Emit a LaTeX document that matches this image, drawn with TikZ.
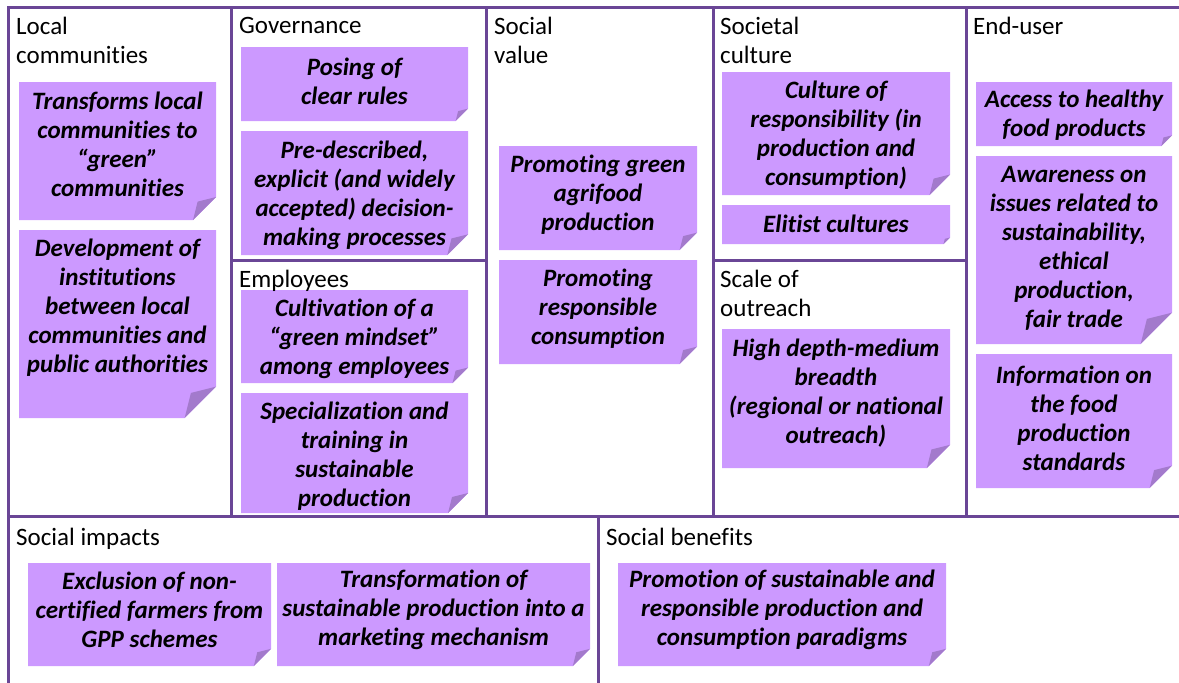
\documentclass[tikz,border=0pt]{standalone}
\usepackage{fontspec}
\setmainfont{Carlito}[Ligatures=NoCommon]
\definecolor{gridline}{RGB}{106,70,150}
\definecolor{notefill}{HTML}{CC99FF}
\definecolor{notefold}{HTML}{A37ACC}

\begin{document}
\begin{tikzpicture}[x=1pt,y=-1pt,
  every node/.style={font=\fontsize{25}{29}\selectfont},
  heading/.style={anchor=north west,inner sep=0pt,align=left},
  notetext/.style={align=center,inner sep=0pt,font=\fontsize{25}{29}\selectfont\bfseries\itshape},
  frame/.style={gridline,line width=3pt}]
  \useasboundingbox (0,0) rectangle (1179,683);
  % sticky notes: x1/y1/x2/y2/text centre/text
  \foreach \xa/\ya/\xb/\yb/\ty/\txt [count=\i] in {
    19/82/216/220/144.5/{Transforms local\\communities to\\“green”\\communities},
    19/230/216/418/308/{Development of\\institutions\\between local\\communities and\\public authorities},
    241/47/468/121/81.5/{Posing of\\clear rules},
    241/131/468/255/195.5/{Pre-described,\\explicit (and widely\\accepted) decision-\\making processes},
    241/290/468/383/339/{Cultivation of a\\“green mindset”\\among employees},
    241/393/468/513/456.5/{Specialization and\\training in\\sustainable\\production},
    499/146/697/250/194.5/{Promoting green\\agrifood\\production},
    499/260/697/364/308.5/{Promoting\\responsible\\consumption},
    722/72/950/195/135/{Culture of\\responsibility (in\\production and\\consumption)},
    722/205/950/244/224/{Elitist cultures},
    722/329/950/468/393/{High depth-medium\\breadth\\(regional or national\\outreach)},
    976/82/1172/146/115.5/{Access to healthy\\food products},
    976/156/1172/344/248.5/{Awareness on\\issues related to\\sustainability,\\ethical\\production,\\fair trade},
    976/354/1172/488/418/{Information on\\the food\\production\\standards},
    28/563/271/666/609.5/{Exclusion of non-\\certified farmers from\\GPP schemes},
    277/563/590/666/609.5/{Transformation of\\sustainable production into a\\marketing mechanism},
    618/563/946/666/609.5/{Promotion of sustainable and\\responsible production and\\consumption paradigms}}{
    \pgfmathsetmacro{\f}{min(\xb-\xa,\yb-\ya)/6}
    \fill[notefill] (\xa,\ya) -- (\xb,\ya) -- (\xb,{\yb-\f}) -- ({\xb-\f},\yb) -- (\xa,\yb) -- cycle;
    \fill[notefold] ({\xb-\f},\yb) -- ({\xb-0.8*\f},{\yb-0.8*\f}) -- (\xb,{\yb-\f}) -- cycle;
    \node[notetext] (note\i) at ({(\xa+\xb)/2},\ty) {\txt};
  }
  % canvas lines
  \draw[frame] (1179,7) -- (8,7) -- (8,683);
  \draw[frame] (8,516) -- (1179,516);
  \foreach \x in {231,486,713,966}{ \draw[frame] (\x,7) -- (\x,516); }
  \draw[frame] (231,260) -- (486,260);
  \draw[frame] (713,260) -- (966,260);
  \draw[frame] (598,516) -- (598,683);
  % block titles
  \node[heading] (hlocal) at (16,17) {Local\\communities};
  \node[heading] (hgov) at (239,17) {Governance};
  \node[heading] (hemp) at (239,270) {Employees};
  \node[heading] (hvalue) at (494,17) {Social\\value};
  \node[heading] (hculture) at (720,17) {Societal\\culture};
  \node[heading] (hscale) at (720,270) {Scale of\\outreach};
  \node[heading] (huser) at (973,17) {End-user};
  \node[heading] (himpact) at (16,528) {Social impacts};
  \node[heading] (hbenefit) at (606,528) {Social benefits};
\end{tikzpicture}
\end{document}
